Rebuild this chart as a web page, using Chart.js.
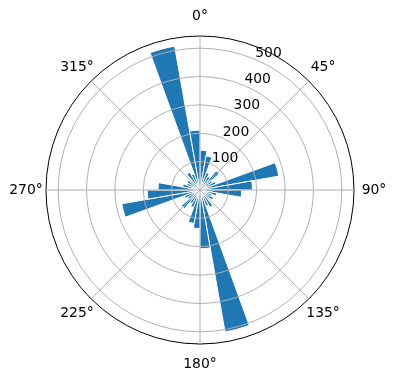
<!DOCTYPE html>
<html>
<head>
<meta charset="utf-8">
<script src="https://cdn.jsdelivr.net/npm/chart.js@4/dist/chart.umd.min.js"></script>
<style>
  html, body { margin: 0; padding: 0; background: #fff; }
  #wrap { width: 396px; height: 380px; position: relative; }
</style>
</head>
<body>
<div id="wrap"><canvas id="roseChart"></canvas></div>
<script>
// 36 bins of 10 degrees, clockwise from north
const binLabels = [];
for (let d = 0; d < 360; d += 10) binLabels.push(d + "°");

const counts = [
  140, 122, 65, 55, 88, 50, 60, 282, 185,
  147, 60, 45, 55, 40, 70, 60, 508, 207,
  136, 120, 65, 55, 85, 50, 58, 280, 186,
  148, 62, 48, 52, 42, 72, 60, 515, 211
];

const angleLabels = ["0°", "45°", "90°", "135°", "180°", "225°", "270°", "315°"];
const radialTicks = [100, 200, 300, 400, 500];
const radialMax = 543;

const FONT = "13.9px 'DejaVu Sans'";

// tick labels at 22.5deg and angle labels around the outer circle
const polarLabels = {
  id: "polarLabels",
  afterDraw(chart) {
    const scale = chart.scales.r;
    const ctx = chart.ctx;
    ctx.save();
    ctx.font = FONT;
    ctx.fillStyle = "#000";

    ctx.textAlign = "left";
    ctx.textBaseline = "alphabetic";
    radialTicks.forEach(v => {
      const p = scale.getPointPosition(0.5, scale.getDistanceFromCenterForValue(v));
      ctx.fillText(String(v), p.x + 1, p.y - 2);
    });

    ctx.textAlign = "center";
    ctx.textBaseline = "middle";
    angleLabels.forEach((lab, i) => {
      const p = scale.getPointPosition(i, scale.drawingArea + 20);
      ctx.fillText(lab, p.x, p.y);
    });
    ctx.restore();
  }
};

new Chart(document.getElementById("roseChart"), {
  type: "polarArea",
  data: {
    labels: binLabels,
    datasets: [{
      data: counts,
      backgroundColor: "#1f77b4",
      borderColor: "#ffffff",
      borderWidth: 1
    }]
  },
  options: {
    responsive: true,
    maintainAspectRatio: false,
    animation: false,
    layout: { padding: { left: 46, right: 42, top: 36, bottom: 36 } },
    plugins: {
      legend: { display: false },
      tooltip: { enabled: false }
    },
    scales: {
      r: {
        labels: angleLabels,
        min: 0,
        max: radialMax,
        startAngle: 0,
        afterBuildTicks: (scale) => {
          scale.ticks = [0].concat(radialTicks, [radialMax]).map(v => ({ value: v }));
        },
        ticks: { display: false },
        pointLabels: { display: false },
        grid: {
          circular: true,
          z: 1,
          color: (c) => (c.tick && c.tick.value === radialMax ? "#000000" : "#b0b0b0"),
          lineWidth: 1
        },
        angleLines: { display: true, color: "#b0b0b0", lineWidth: 1 }
      }
    }
  },
  plugins: [polarLabels]
});
</script>
</body>
</html>
